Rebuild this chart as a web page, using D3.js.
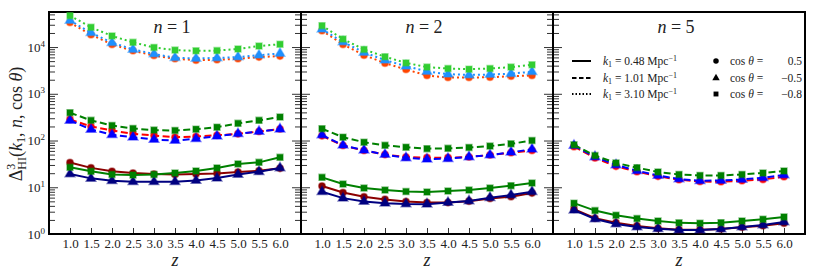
<!DOCTYPE html>
<html>
<head>
<meta charset="utf-8">
<script src="https://cdn.jsdelivr.net/npm/d3@7"></script>
<style>
body { margin: 0; background: #fff; }
</style>
</head>
<body>
<svg id="chart"></svg>
<script>
var WIDTH = 814;
var HEIGHT = 271;
var FONT = "Liberation Serif";

// redshifts on the x axis
var zValues = [1.0, 1.5, 2.0, 2.5, 3.0, 3.5, 4.0, 4.5, 5.0, 5.5, 6.0];
var panelNs = [1, 2, 5];
var kLabels = ["0.48", "1.01", "3.10"];
var cosLabels = ["0.5", "\u22120.5", "\u22120.8"];
var yMajorTicks = [1, 10, 100, 1000, 10000];
var yExponents = ["0", "1", "2", "3", "4"];

// n = 1
var n1_k048_c05 = [34, 26, 21.9, 20.2, 19.2, 18.8, 19.2, 19.8, 21.2, 22.6, 25.4];
var n1_k048_cm05 = [19.2, 15.5, 13.8, 13.1, 13.1, 13.2, 14.0, 15.7, 18.8, 21.5, 25.9];
var n1_k048_cm08 = [26.7, 21.9, 18.8, 18.3, 18.8, 20.2, 22.3, 25.9, 31.6, 34.1, 43.7];
var n1_k101_c05 = [283, 200, 164, 139, 128, 118, 122, 130, 139, 156, 176];
var n1_k101_cm05 = [270, 172, 133, 118, 105, 100, 109, 124, 139, 156, 175];
var n1_k101_cm08 = [394, 270, 210, 181, 167, 164, 175, 193, 233, 270, 318];
var n1_k310_c05 = [33400, 18400, 11400, 8300, 6600, 5600, 5250, 5350, 5600, 6100, 6400];
var n1_k310_cm05 = [37000, 20300, 12400, 8900, 7100, 5900, 5700, 5850, 6100, 6700, 7300];
var n1_k310_cm08 = [47000, 26500, 17300, 12600, 9800, 8600, 8300, 8400, 9100, 10500, 11500];

// n = 2
var n2_k048_c05 = [10.6, 7.7, 6.25, 5.5, 4.95, 4.7, 4.7, 5.05, 5.75, 6.3, 7.5];
var n2_k048_cm05 = [8.0, 5.85, 4.95, 4.57, 4.4, 4.35, 4.7, 5.1, 6.0, 6.8, 8.0];
var n2_k048_cm08 = [16.3, 11.7, 9.6, 8.7, 8.1, 7.9, 8.3, 8.7, 9.6, 10.8, 12.3];
var n2_k101_c05 = [126, 78, 61, 50, 44.6, 43, 43, 44.6, 49, 55, 61];
var n2_k101_cm05 = [131, 79, 62, 50, 42.5, 39.6, 41, 44.6, 49, 56, 65];
var n2_k101_cm08 = [179, 118, 92, 79, 72, 67, 68, 71, 76, 85, 100];
var n2_k310_c05 = [22400, 11400, 6700, 4530, 3320, 2460, 2230, 2230, 2260, 2380, 2460];
var n2_k310_cm05 = [24000, 12800, 7700, 5250, 3900, 3000, 2630, 2530, 2580, 2700, 2950];
var n2_k310_cm08 = [28700, 14800, 8900, 6200, 4580, 3720, 3470, 3370, 3470, 3720, 4170];

// n = 5 (k1 = 3.10 is off this panel)
var n5_k048_c05 = [3.4, 2.17, 1.75, 1.49, 1.32, 1.24, 1.24, 1.28, 1.39, 1.51, 1.7];
var n5_k048_cm05 = [3.23, 2.1, 1.64, 1.41, 1.3, 1.22, 1.22, 1.28, 1.41, 1.56, 1.81];
var n5_k048_cm08 = [4.57, 3.17, 2.52, 2.14, 1.9, 1.73, 1.7, 1.75, 1.9, 2.07, 2.32];
var n5_k101_c05 = [74, 42.5, 28, 21.5, 17.1, 14.5, 13.3, 13.1, 13.8, 14.7, 16.8];
var n5_k101_cm05 = [78, 44.6, 30, 22.6, 17.9, 15, 13.8, 14, 14.7, 16, 18.3];
var n5_k101_cm08 = [80.8, 47.6, 33.2, 26.3, 21.2, 18.8, 17.9, 17.9, 18.8, 20.2, 22.3];

// k index: 0 solid, 1 dashed, 2 dotted ; c index: 0 circle, 1 triangle, 2 square
var panelSeries = [
    [
        {k: 0, c: 0, v: n1_k048_c05}, {k: 0, c: 1, v: n1_k048_cm05}, {k: 0, c: 2, v: n1_k048_cm08},
        {k: 1, c: 0, v: n1_k101_c05}, {k: 1, c: 1, v: n1_k101_cm05}, {k: 1, c: 2, v: n1_k101_cm08},
        {k: 2, c: 0, v: n1_k310_c05}, {k: 2, c: 1, v: n1_k310_cm05}, {k: 2, c: 2, v: n1_k310_cm08}
    ],
    [
        {k: 0, c: 0, v: n2_k048_c05}, {k: 0, c: 1, v: n2_k048_cm05}, {k: 0, c: 2, v: n2_k048_cm08},
        {k: 1, c: 0, v: n2_k101_c05}, {k: 1, c: 1, v: n2_k101_cm05}, {k: 1, c: 2, v: n2_k101_cm08},
        {k: 2, c: 0, v: n2_k310_c05}, {k: 2, c: 1, v: n2_k310_cm05}, {k: 2, c: 2, v: n2_k310_cm08}
    ],
    [
        {k: 0, c: 0, v: n5_k048_c05}, {k: 0, c: 1, v: n5_k048_cm05}, {k: 0, c: 2, v: n5_k048_cm08},
        {k: 1, c: 0, v: n5_k101_c05}, {k: 1, c: 1, v: n5_k101_cm05}, {k: 1, c: 2, v: n5_k101_cm08}
    ]
];

var colors = [
    ["#8b0000", "#000080", "#008000"],
    ["#ff0000", "#0000ff", "#008000"],
    ["#ff4500", "#1e90ff", "#32cd32"]
];
var dashes = [null, "7,3.5", "2,3"];
var symbols = [d3.symbolCircle, d3.symbolTriangle, d3.symbolSquare];
var symbolSizes = [34, 40, 36];

var LEFT = 49, TOP = 12, BOTTOM = 234, PANEL_W = 252;

var svg = d3.select("#chart")
    .attr("width", WIDTH)
    .attr("height", HEIGHT);

var y = d3.scaleLog()
    .domain([1, Math.pow(10, 4.75)])
    .range([BOTTOM, TOP]);

// minor ticks 2..9 of each decade
var yMinorTicks = [];
for (var e = 0; e < 5; e++) {
    for (var m = 2; m < 10; m++) {
        var t = m * Math.pow(10, e);
        if (t < y.domain()[1]) yMinorTicks.push(t);
    }
}

panelNs.forEach(function(n, i) {
    var x0 = LEFT + i * PANEL_W;
    var x = d3.scaleLinear().domain([0.5, 6.5]).range([x0, x0 + PANEL_W]);
    var g = svg.append("g");

    // x axis, ticks pointing inward
    var xAxis = g.append("g")
        .attr("transform", "translate(0," + BOTTOM + ")")
        .call(d3.axisBottom(x).tickValues(zValues).tickFormat(d3.format(".1f"))
            .tickSize(-6).tickPadding(5).tickSizeOuter(0));
    xAxis.attr("font-family", FONT).attr("font-size", 13);
    xAxis.select(".domain").remove();
    xAxis.selectAll(".tick line").attr("stroke", "#333");
    xAxis.selectAll(".tick text").attr("fill", "#222");

    // y ticks on the left edge
    var yl = g.append("g").attr("transform", "translate(" + x0 + ",0)");
    yl.call(d3.axisLeft(y).tickValues(yMinorTicks).tickFormat("").tickSize(-6).tickSizeOuter(0));
    var ylMajor = g.append("g").attr("transform", "translate(" + x0 + ",0)")
        .call(d3.axisLeft(y).tickValues(yMajorTicks).tickFormat("").tickSize(-9).tickSizeOuter(0));
    ylMajor.attr("font-family", FONT).attr("font-size", 13);
    yl.select(".domain").remove();
    ylMajor.select(".domain").remove();
    g.selectAll(".tick line").attr("stroke", "#333");

    if (i == 0) {
        ylMajor.selectAll(".tick").append("text")
            .attr("x", -4)
            .attr("dy", "0.32em")
            .attr("text-anchor", "end")
            .attr("fill", "#222")
            .each(function(d, j) {
                var tx = d3.select(this);
                tx.append("tspan").text("10");
                tx.append("tspan").attr("font-size", 9).attr("dy", -5).text(yExponents[j]);
            });
    }

    // y ticks on the right edge (not for the last panel)
    if (i < 2) {
        var yr = g.append("g").attr("transform", "translate(" + (x0 + PANEL_W) + ",0)");
        yr.append("g").call(d3.axisRight(y).tickValues(yMinorTicks).tickFormat("").tickSize(-6).tickSizeOuter(0));
        yr.append("g").call(d3.axisRight(y).tickValues(yMajorTicks).tickFormat("").tickSize(-9).tickSizeOuter(0));
        yr.selectAll(".domain").remove();
        yr.selectAll(".tick line").attr("stroke", "#333");
    }

    // frame
    g.append("rect")
        .attr("x", x0)
        .attr("y", TOP)
        .attr("width", PANEL_W)
        .attr("height", BOTTOM - TOP)
        .attr("fill", "none")
        .attr("stroke", "#000")
        .attr("stroke-width", 2);

    var line = d3.line()
        .x(function(d, j) { return x(zValues[j]); })
        .y(function(d) { return y(d); });

    panelSeries[i].forEach(function(s) {
        g.append("path")
            .datum(s.v)
            .attr("d", line)
            .attr("fill", "none")
            .attr("stroke", colors[s.k][s.c])
            .attr("stroke-width", 2)
            .attr("stroke-dasharray", dashes[s.k]);
        g.selectAll(null)
            .data(s.v)
            .enter()
            .append("path")
            .attr("d", d3.symbol().type(symbols[s.c]).size(symbolSizes[s.c]))
            .attr("transform", function(d, j) { return "translate(" + x(zValues[j]) + "," + y(d) + ")"; })
            .attr("fill", colors[s.k][s.c])
            .attr("stroke", colors[s.k][s.c])
            .attr("stroke-opacity", 0.45)
            .attr("stroke-width", 1.5);
    });

    // panel title
    var title = g.append("text")
        .attr("x", x0 + PANEL_W / 2 - 3)
        .attr("y", 33)
        .attr("text-anchor", "middle")
        .attr("font-family", FONT)
        .attr("font-size", 18)
        .attr("fill", "#222");
    title.append("tspan").attr("font-style", "italic").text("n");
    title.append("tspan").text(" = " + n);

    // x label
    g.append("text")
        .attr("x", x0 + PANEL_W / 2)
        .attr("y", 266)
        .attr("text-anchor", "middle")
        .attr("font-family", FONT)
        .attr("font-size", 18)
        .attr("font-style", "italic")
        .attr("fill", "#222")
        .text("z");
});

// y label
var yLabel = svg.append("text")
    .attr("transform", "translate(22,124) rotate(-90)")
    .attr("text-anchor", "middle")
    .attr("font-family", FONT)
    .attr("font-size", 18)
    .attr("fill", "#222");
yLabel.append("tspan").text("\u0394");
yLabel.append("tspan").attr("font-size", 12).attr("dy", -7).text("3");
yLabel.append("tspan").attr("font-size", 12).attr("dx", -6).attr("dy", 11).text("HI");
yLabel.append("tspan").attr("dy", -4).text("(");
yLabel.append("tspan").attr("font-style", "italic").text("k");
yLabel.append("tspan").attr("font-size", 12).attr("dy", 3).text("1");
yLabel.append("tspan").attr("dy", -3).text(", ");
yLabel.append("tspan").attr("font-style", "italic").text("n");
yLabel.append("tspan").text(", cos ");
yLabel.append("tspan").attr("font-style", "italic").text("\u03b8");
yLabel.append("tspan").text(")");

// legend inside the last panel
var legend = svg.append("g").attr("font-family", FONT).attr("font-size", 11.5).attr("fill", "#222");
var rowY = [61, 78, 94];
kLabels.forEach(function(k, j) {
    legend.append("line")
        .attr("x1", 572).attr("x2", 591)
        .attr("y1", rowY[j]).attr("y2", rowY[j])
        .attr("stroke", "#000")
        .attr("stroke-width", 2)
        .attr("stroke-dasharray", j == 1 ? "4.5,2.5" : (j == 2 ? "1.5,2" : null));
    var t = legend.append("text")
        .attr("x", 603).attr("y", rowY[j] + 4);
    t.append("tspan").attr("font-style", "italic").text("k");
    t.append("tspan").attr("font-size", 8).attr("dy", 2).text("1");
    t.append("tspan").attr("dy", -2).text(" = " + k + " Mpc");
    t.append("tspan").attr("font-size", 8).attr("dy", -4).text("\u22121");
});
cosLabels.forEach(function(c, j) {
    legend.append("path")
        .attr("d", d3.symbol().type(symbols[j]).size(24))
        .attr("transform", "translate(716," + rowY[j] + ")")
        .attr("fill", "#000");
    var t = legend.append("text")
        .attr("x", 730).attr("y", rowY[j] + 4);
    t.append("tspan").text("cos ");
    t.append("tspan").attr("font-style", "italic").text("\u03b8");
    t.append("tspan").text(" = ");
    legend.append("text")
        .attr("x", 802).attr("y", rowY[j] + 4)
        .attr("text-anchor", "end")
        .text(c);
});
</script>
</body>
</html>
